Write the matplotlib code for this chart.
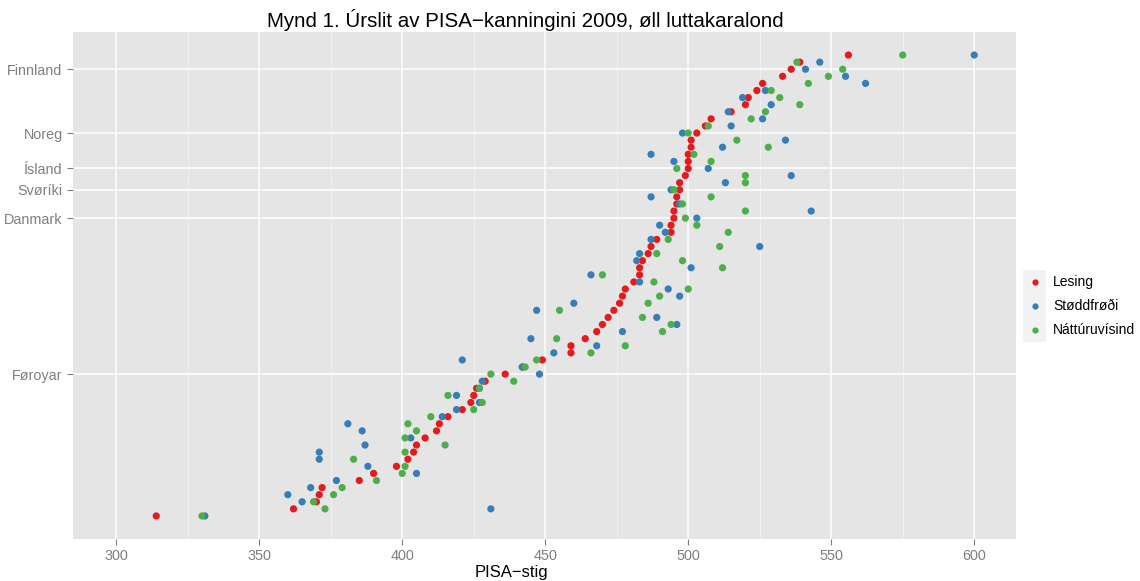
import numpy as np
import matplotlib
matplotlib.use("Agg")
import matplotlib.pyplot as plt
from matplotlib.patches import Rectangle
from matplotlib.lines import Line2D

plt.rcParams['font.family'] = ['Liberation Sans', 'DejaVu Sans']

# rows from top (best reading score) to bottom
countries = ["Shanghai", "Korea", "Finnland", "Hong Kong", "Singapore", "Canada",
             "New Zealand", "Japan", "Australia", "Netherlands", "Belgium", "Noreg",
             "Switzerland", "Estonia", "USA", "Poland", "Ísland", "Liechtenstein",
             "Germany", "Svøríki", "Ireland", "France", "Chinese Taipei", "Danmark",
             "Hungary", "UK", "Portugal", "Macao", "Italy", "Latvia", "Slovenia",
             "Greece", "Spain", "Czech Rep.", "Slovak Rep.", "Croatia", "Israel",
             "Luxembourg", "Austria", "Lithuania", "Turkey", "Russia", "Dubai",
             "Chile", "Serbia", "Føroyar", "Bulgaria", "Uruguay", "Mexico", "Romania",
             "Thailand", "Trinidad and Tobago", "Colombia", "Brazil", "Montenegro",
             "Jordan", "Tunisia", "Indonesia", "Argentina", "Kazakhstan", "Albania",
             "Qatar", "Panama", "Peru", "Azerbaijan", "Kyrgyzstan"]

lesing = [556, 539, 536, 533, 526, 524, 521, 520, 515, 508, 506, 503,
          501, 501, 500, 500, 500, 499, 497, 497, 496, 496, 495, 495,
          494, 494, 489, 487, 486, 484, 483, 483, 481, 478, 477, 476,
          474, 472, 470, 468, 464, 459, 459, 449, 442, 436, 429, 426,
          425, 424, 421, 416, 413, 412, 408, 405, 404, 402, 398, 390,
          385, 372, 371, 370, 362, 314]

stoddfrodi = [600, 546, 541, 555, 562, 527, 519, 529, 514, 526, 515, 498,
              534, 512, 487, 495, 507, 536, 513, 494, 487, 497, 543, 503,
              490, 492, 487, 525, 483, 482, 501, 466, 483, 493, 497, 460,
              447, 489, 496, 477, 445, 468, 453, 421, 442, 448, 428, 427,
              419, 427, 419, 414, 381, 386, 403, 387, 371, 371, 388, 405,
              377, 368, 360, 365, 431, 331]

natturuvisind = [575, 538, 554, 549, 542, 529, 532, 539, 527, 522, 507, 500,
                 517, 528, 502, 508, 496, 520, 520, 495, 508, 498, 520, 499,
                 503, 514, 493, 511, 489, 498, 512, 470, 488, 500, 490, 486,
                 455, 484, 494, 491, 454, 478, 466, 447, 443, 431, 439, 427,
                 416, 428, 425, 410, 402, 405, 401, 415, 401, 383, 401, 400,
                 391, 379, 376, 369, 373, 330]

labelled = ["Finnland", "Noreg", "Ísland", "Svøríki", "Danmark", "Føroyar"]

series = [("Lesing", lesing, "#E41A1C"),
          ("Støddfrøði", stoddfrodi, "#377EB8"),
          ("Náttúruvísind", natturuvisind, "#4DAF4A")]

n = len(countries)
ypos = np.arange(n, 0, -1)

W, H = 1140, 581
fig = plt.figure(figsize=(W / 100, H / 100), dpi=100)
ax = fig.add_axes([73 / W, 1 - 539 / H, (1016 - 73) / W, (539 - 32) / H])
ax.set_facecolor("#E5E5E5")
for s in ax.spines.values():
    s.set_visible(False)

for name, vals, col in series:
    ax.scatter(vals, ypos, s=27, color=col, edgecolors="none", zorder=3)

ax.set_xlim(284.9, 614.6)
ax.set_ylim(1 - 0.05 * (n - 1), n + 0.05 * (n - 1))

ax.set_xticks([300, 350, 400, 450, 500, 550, 600])
ax.set_xticks([325, 375, 425, 475, 525, 575], minor=True)
ticky = [ypos[countries.index(c)] for c in labelled]
ax.set_yticks(ticky)
ax.set_yticklabels(labelled)
ax.tick_params(axis="both", which="major", colors="#7F7F7F", labelsize=10.4,
               length=4, width=0.8, labelcolor="#7F7F7F")
ax.tick_params(axis="x", which="minor", length=0)
ax.grid(True, which="major", color="white", linewidth=1.1, zorder=0)
ax.grid(True, which="minor", axis="x", color="#F2F2F2", linewidth=0.6, zorder=0)
ax.set_axisbelow(True)

fig.text(525 / W, 1 - 20 / H, "Mynd 1. Úrslit av PISA\u2212kanningini 2009, øll luttakaralond",
         ha="center", va="center", fontsize=14.8)
fig.text(511 / W, 1 - 572 / H, "PISA\u2212stig", ha="center", va="center", fontsize=12)

# legend, drawn like ggplot's with grey key boxes
fig.patches.append(Rectangle((1017 / W, 1 - 348 / H), (W - 1017) / W, 101 / H,
                             transform=fig.transFigure, facecolor="white",
                             edgecolor="none", zorder=1))
for k, (name, vals, col) in enumerate(series):
    top = 270 + 24 * k
    fig.patches.append(Rectangle((1023 / W, 1 - (top + 23.5) / H), 23 / W, 23.5 / H,
                                 transform=fig.transFigure, facecolor="#F2F2F2",
                                 edgecolor="none", zorder=2))
    fig.add_artist(Line2D([1034.5 / W], [1 - (top + 12) / H], marker="o",
                          markersize=4.5, color=col, markeredgewidth=0,
                          transform=fig.transFigure, zorder=3))
    fig.text(1053 / W, 1 - (top + 12) / H, name, ha="left", va="center", fontsize=10)

fig.savefig("out.png", dpi=100)
